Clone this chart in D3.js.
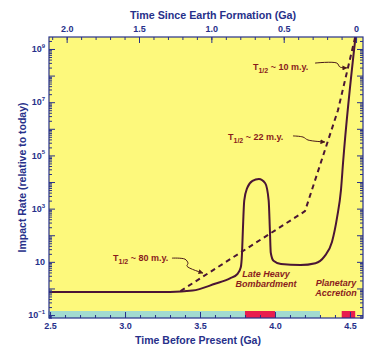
<!DOCTYPE html>
<html><head><meta charset="utf-8">
<script src="https://cdn.jsdelivr.net/npm/d3@7"></script>
<style>
body{margin:0;background:#fff;}
svg{display:block;font-family:"Liberation Sans",Arial,Helvetica,sans-serif;}
</style>
</head><body>
<svg id="chart" width="376" height="355"></svg>
<script>
// ---------- data ----------
// Solid curve: impact rate (relative to today) vs time before present (Ga)
const solidTime = [2.49, 3.30, 3.45, 3.60, 3.70, 3.75, 3.772, 3.780, 3.786, 3.795, 3.815, 3.850, 3.893, 3.935, 3.958, 3.966, 3.972, 3.990, 4.04, 4.17, 4.27, 4.33, 4.38, 4.415, 4.44, 4.455, 4.537];
const solidRate = [0.74, 0.74, 0.83, 1.5, 2.4, 3.5, 6.3, 20, 160, 2000, 6000, 1.1e4, 1.3e4, 9000, 2000, 160, 22, 11, 8.3, 7.6, 8.9, 16, 56, 500, 5000, 6.3e4, 2.8e9];
// Dashed curve: exponential decay segments
const dashedTime = [3.37, 4.20, 4.42, 4.535];
const dashedRate = [0.8, 800, 5e6, 2.8e9];
// Bottom strip intervals (Ga before present)
const stripStart = [2.49, 3.80, 4.445];
const stripEnd   = [4.30, 4.00, 4.535];
const stripKind  = ["cyan", "red", "red"];
// Axis ticks
const bottomTicks = [2.5, 3.0, 3.5, 4.0, 4.5];
const bottomLabels = ["2.5", "3.0", "3.5", "4.0", "4.5"];
const topTicks = [2.0, 1.5, 1.0, 0.5, 0];
const topLabels = ["2.0", "1.5", "1.0", "0.5", "0"];
const leftTickExp = [-1, 1, 3, 5, 7, 9];
// Half-life annotations (text anchor and arrow path in data units)
const halfLives = ["10 m.y.", "22 m.y.", "80 m.y."];
const halfTextTime = [3.853, 3.687, 2.92];
const halfTextRate = [2.1e8, 4.9e5, 13.8];
const arrowTime = [[4.267, 4.413, 4.433, 4.48], [4.12, 4.187, 4.22, 4.333], [3.313, 3.40, 3.42, 3.413, 3.52]];
const arrowRate = [[2.95e8, 2.95e8, 2.1e8, 1.95e8], [5.4e5, 4.9e5, 3.8e5, 3.2e5], [13.8, 12.6, 8.9, 6.9, 3.8]];
// Phase labels
const phaseLines = [["Late Heavy", "Bombardment"], ["Planetary", "Accretion"]];
const phaseTime = [3.94, 4.407];
const phaseRate = [3.5, 1.6];

// ---------- layout ----------
const W = 376, H = 355;
const m = {left: 49, right: 13, top: 37, bottom: 37};
const pw = W - m.left - m.right, ph = H - m.top - m.bottom;
const navy = "#27308a", maroon = "#4a1535", textRed = "#8a1c1c";

const svg = d3.select("#chart");
const g = svg.append("g").attr("transform", `translate(${m.left},${m.top})`);

const x = d3.scaleLinear().domain([2.493, 4.587]).range([0, pw]);
const xTop = d3.scaleLinear().domain([2.122, -0.048]).range([0, pw]);
const y = d3.scaleLog().domain([Math.pow(10, -1.11), Math.pow(10, 9.45)]).range([ph, 0]);

// background
g.append("rect").attr("width", pw).attr("height", ph).attr("fill", "#fdf97c");

svg.append("defs").append("clipPath").attr("id", "clip")
  .append("rect").attr("width", pw).attr("height", ph);

// bottom strip
const stripH = 7;
g.append("g").selectAll("rect").data(stripStart).join("rect")
  .attr("x", (d, i) => x(d))
  .attr("width", (d, i) => x(stripEnd[i]) - x(d))
  .attr("y", ph - stripH).attr("height", stripH)
  .attr("fill", (d, i) => stripKind[i] === "cyan" ? "#a2dbd0" : "#e81d4e");

// curves
const plot = g.append("g").attr("clip-path", "url(#clip)");
const line = d3.line().x(d => x(d[0])).y(d => y(d[1]));
plot.append("path")
  .datum(solidTime.map((t, i) => [t, solidRate[i]]))
  .attr("d", line.curve(d3.curveMonotoneX))
  .attr("fill", "none").attr("stroke", maroon).attr("stroke-width", 2);
plot.append("path")
  .datum(dashedTime.map((t, i) => [t, dashedRate[i]]))
  .attr("d", d3.line().x(d => x(d[0])).y(d => y(d[1]))(dashedTime.map((t, i) => [t, dashedRate[i]])))
  .attr("fill", "none").attr("stroke", maroon).attr("stroke-width", 2)
  .attr("stroke-dasharray", "5,4");

// axes
function styleAxis(sel) {
  sel.select(".domain").remove();
  sel.selectAll("line").attr("stroke", navy).attr("stroke-width", 1);
  sel.selectAll("text").attr("fill", navy).attr("font-weight", "bold").attr("font-size", 9);
}
const minorBottom = d3.range(25, 46).map(v => v / 10);
const minorTop = d3.range(0, 22).map(v => v / 10);
g.append("g").attr("transform", `translate(0,${ph})`)
  .call(d3.axisBottom(x).tickValues(minorBottom).tickFormat("").tickSizeInner(-3).tickSizeOuter(0)).call(styleAxis);
g.append("g").attr("transform", `translate(0,${ph})`)
  .call(d3.axisBottom(x).tickValues(bottomTicks).tickFormat((d, i) => bottomLabels[i]).tickSizeInner(-6).tickSizeOuter(0).tickPadding(5)).call(styleAxis);
g.append("g")
  .call(d3.axisTop(xTop).tickValues(minorTop).tickFormat("").tickSizeInner(-3).tickSizeOuter(0)).call(styleAxis);
g.append("g")
  .call(d3.axisTop(xTop).tickValues(topTicks).tickFormat((d, i) => topLabels[i]).tickSizeInner(-6).tickSizeOuter(0).tickPadding(5)).call(styleAxis);

// log ticks
const majorY = d3.range(-1, 10).map(e => Math.pow(10, e));
const minorY = [];
d3.range(-2, 10).forEach(e => d3.range(2, 10).forEach(k => {
  const v = k * Math.pow(10, e);
  if (v > y.domain()[0] && v < y.domain()[1]) minorY.push(v);
}));
[0, pw].forEach((xx, side) => {
  const axis = side === 0 ? d3.axisLeft : d3.axisRight;
  const ga = g.append("g").attr("transform", `translate(${xx},0)`);
  ga.append("g").call(axis(y).tickValues(minorY).tickFormat("").tickSizeInner(-3).tickSizeOuter(0)).call(styleAxis);
  ga.append("g").call(axis(y).tickValues(majorY).tickFormat("").tickSizeInner(-6).tickSizeOuter(0)).call(styleAxis);
});
// left labels with superscripts
const lab = g.append("g").selectAll("text").data(leftTickExp).join("text")
  .attr("x", -4).attr("y", d => y(Math.pow(10, d))).attr("dy", "0.35em")
  .attr("text-anchor", "end").attr("fill", navy).attr("font-weight", "bold").attr("font-size", 9);
lab.append("tspan").text("10");
lab.filter(d => d !== 1).append("tspan").attr("font-size", 6).attr("dy", "-0.7em").text(d => String(d).replace("-", "\u2212"));

// frame
g.append("rect").attr("width", pw).attr("height", ph).attr("fill", "none")
  .attr("stroke", navy).attr("stroke-width", 1.2);

// axis titles
svg.append("text").attr("x", m.left + pw / 2 + 7).attr("y", 19).attr("text-anchor", "middle")
  .attr("fill", navy).attr("font-weight", "bold").attr("font-size", 10.7)
  .text("Time Since Earth Formation (Ga)");
svg.append("text").attr("x", m.left + pw / 2 - 8).attr("y", 344).attr("text-anchor", "middle")
  .attr("fill", navy).attr("font-weight", "bold").attr("font-size", 10.5)
  .text("Time Before Present (Ga)");
svg.append("text").attr("transform", `translate(26,${m.top + ph / 2}) rotate(-90)`)
  .attr("text-anchor", "middle")
  .attr("fill", navy).attr("font-weight", "bold").attr("font-size", 10.5)
  .text("Impact Rate (relative to today)");

// arrow marker
svg.select("defs").append("marker").attr("id", "arr")
  .attr("viewBox", "0 0 10 10").attr("refX", 9).attr("refY", 5)
  .attr("markerWidth", 5).attr("markerHeight", 5).attr("orient", "auto")
  .append("path").attr("d", "M0,0L10,5L0,10z").attr("fill", "#4a1a1a");

// half-life annotations
const ann = g.append("g");
halfLives.forEach((h, i) => {
  const t = ann.append("text")
    .attr("x", x(halfTextTime[i])).attr("y", y(halfTextRate[i])).attr("dy", "0.35em")
    .attr("fill", textRed).attr("font-weight", "bold").attr("font-size", 9);
  t.append("tspan").text("T");
  t.append("tspan").attr("font-size", 7).attr("dy", 2.5).text("1/2");
  t.append("tspan").attr("dy", -2.5).text(" ~ " + h);
  ann.append("path")
    .attr("d", d3.line().curve(d3.curveCatmullRom)(arrowTime[i].map((tt, j) => [x(tt), y(arrowRate[i][j])])))
    .attr("fill", "none").attr("stroke", "#4a1a1a").attr("stroke-width", 1)
    .attr("marker-end", "url(#arr)");
});

// phase labels
phaseLines.forEach((lines, i) => {
  const t = ann.append("text").attr("text-anchor", "middle")
    .attr("fill", textRed).attr("font-weight", "bold").attr("font-style", "italic").attr("font-size", 9);
  lines.forEach((l, j) => t.append("tspan").attr("x", x(phaseTime[i]))
    .attr("y", y(phaseRate[i])).attr("dy", (0.35 + j * 1.05) + "em").text(l));
});
</script>
</body></html>
